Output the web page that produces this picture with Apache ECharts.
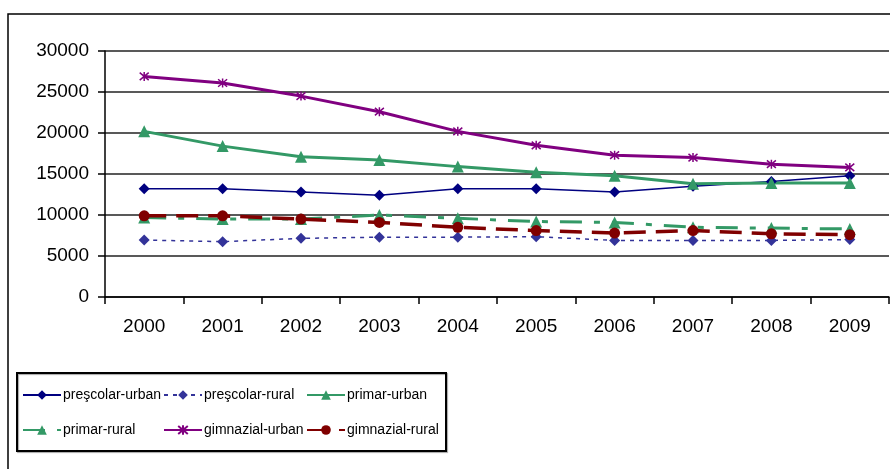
<!DOCTYPE html>
<html>
<head>
<meta charset="utf-8">
<script src="https://cdn.jsdelivr.net/npm/echarts@6/dist/echarts.min.js"></script>
<style>
  html, body { margin: 0; padding: 0; background: #fff; }
  #chart { width: 890px; height: 469px; }
</style>
</head>
<body>
<div id="chart"></div>
<script>
const years = ["2000", "2001", "2002", "2003", "2004", "2005", "2006", "2007", "2008", "2009"];
const prescolarUrban = [13200, 13200, 12800, 12400, 13200, 13200, 12800, 13500, 14100, 14800];
const prescolarRural = [6950, 6750, 7150, 7300, 7300, 7350, 6900, 6900, 6900, 7000];
const primarUrban = [20200, 18400, 17100, 16700, 15900, 15200, 14800, 13800, 13900, 13900];
const primarRural = [9700, 9500, 9500, 10000, 9600, 9200, 9100, 8500, 8400, 8300];
const gimnazialUrban = [26900, 26100, 24500, 22600, 20200, 18500, 17300, 17000, 16200, 15800];
const gimnazialRural = [9900, 9900, 9500, 9100, 8500, 8100, 7800, 8100, 7700, 7600];

const star = "path://M0,0L10,10M10,0L0,10M5,-1L5,11";
const font = "Liberation Sans";

const chart = echarts.init(document.getElementById("chart"));

// one legend per column so the columns line up like the original
function legendCol(left, names) {
  return {
    left: left,
    top: 388,
    padding: 0,
    orient: "vertical",
    itemWidth: 38,
    itemHeight: 12,
    itemGap: 21,
    textStyle: {
      fontFamily: font,
      fontSize: 14,
      color: "#000",
      padding: [0, 0, 0, -3]
    },
    inactiveColor: "#000",
    data: names
  };
}

const option = {
  animation: false,
  backgroundColor: "#fff",
  graphic: [
    {
      type: "rect",
      shape: { x: 8, y: 14, width: 900, height: 470 },
      style: { fill: "none", stroke: "#000", lineWidth: 1.5 }
    },
    {
      type: "rect",
      shape: { x: 17, y: 373, width: 429, height: 78 },
      style: { fill: "none", stroke: "#000", lineWidth: 2, shadowColor: "rgba(0,0,0,0.35)", shadowOffsetX: 1, shadowOffsetY: 1, shadowBlur: 1 }
    }
  ],
  grid: { left: 105, top: 51, right: 1, bottom: 172 },
  legend: [
    legendCol(22, ["preşcolar-urban", "primar-rural"]),
    legendCol(163, ["preşcolar-rural", "gimnazial-urban"]),
    legendCol(306, ["primar-urban", "gimnazial-rural"])
  ],
  xAxis: {
    type: "category",
    data: years,
    boundaryGap: true,
    axisLine: { lineStyle: { color: "#000", width: 1.5 } },
    axisTick: { show: true, length: 7, inside: false, lineStyle: { color: "#000", width: 1.5 } },
    axisLabel: { margin: 20, fontFamily: font, fontSize: 19, color: "#000" }
  },
  yAxis: {
    type: "value",
    min: 0,
    max: 30000,
    interval: 5000,
    axisLine: { show: true, lineStyle: { color: "#000", width: 1.5 } },
    axisTick: { show: true, length: 7, lineStyle: { color: "#000", width: 1.5 } },
    axisLabel: { margin: 16, fontFamily: font, fontSize: 19, color: "#000", formatter: function (v) { return String(v); } },
    splitLine: { show: true, lineStyle: { color: "#222", width: 1.5 } }
  },
  series: [
    {
      name: "preşcolar-urban",
      type: "line",
      data: prescolarUrban,
      symbol: "diamond",
      symbolSize: 11,
      color: "#000080",
      lineStyle: { width: 1.5, color: "#000080" },
      itemStyle: { color: "#000080" },
      z: 3
    },
    {
      name: "preşcolar-rural",
      type: "line",
      data: prescolarRural,
      symbol: "diamond",
      symbolSize: 11,
      color: "#333399",
      lineStyle: { width: 1.5, color: "#333399", type: [4, 5] },
      itemStyle: { color: "#333399" },
      z: 2
    },
    {
      name: "primar-urban",
      type: "line",
      data: primarUrban,
      symbol: "triangle",
      symbolSize: 12,
      color: "#339966",
      lineStyle: { width: 3, color: "#339966" },
      itemStyle: { color: "#339966" },
      z: 3
    },
    {
      name: "primar-rural",
      type: "line",
      data: primarRural,
      symbol: "triangle",
      symbolSize: 12,
      color: "#339966",
      lineStyle: { width: 3, color: "#339966", type: [22, 12, 6, 12] },
      itemStyle: { color: "#339966" },
      z: 2
    },
    {
      name: "gimnazial-urban",
      type: "line",
      data: gimnazialUrban,
      symbol: star,
      symbolSize: 9,
      color: "#800080",
      lineStyle: { width: 3, color: "#800080" },
      itemStyle: { color: "#800080", borderColor: "#800080", borderWidth: 1.5 },
      z: 3
    },
    {
      name: "gimnazial-rural",
      type: "line",
      data: gimnazialRural,
      symbol: "circle",
      symbolSize: 11,
      color: "#800000",
      lineStyle: { width: 3.5, color: "#800000", type: [22, 10] },
      itemStyle: { color: "#800000" },
      z: 4
    }
  ]
};

chart.setOption(option);
window.addEventListener("resize", function () {
  chart.resize();
});
</script>
</body>
</html>
